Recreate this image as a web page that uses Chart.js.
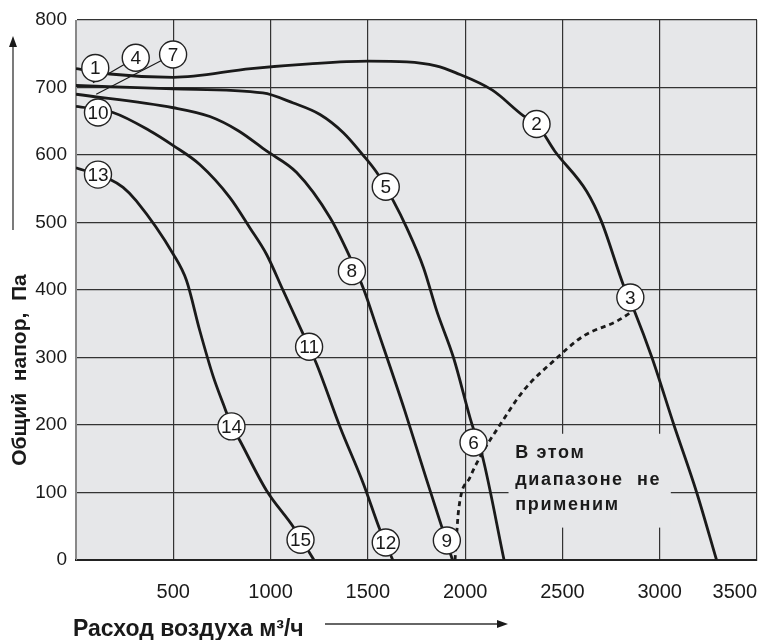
<!DOCTYPE html>
<html lang="ru">
<head>
<meta charset="UTF-8">
<title>Характеристики вентилятора</title>
<script src="https://cdn.jsdelivr.net/npm/chart.js"></script>
<style>
    body { margin: 0; background: #fff; }
    canvas { display: block; }
</style>
</head>
<body>
<canvas id="fanChart" width="761" height="640"></canvas>
<script>
// curve 1-2-3
const flowA = [0, 175, 500, 900, 1200, 1500, 1700, 1850, 1950, 2140, 2300, 2370, 2460, 2625, 2700, 2815, 2870, 2960, 3073, 3190, 3292];
const presA = [728, 720, 715, 728, 735, 739, 738, 732, 722, 696, 658, 645, 606, 546, 502, 406, 369, 300, 200, 100, 0];
// curve 4-5-6
const flowB = [0, 500, 960, 1117, 1254, 1374, 1472, 1546, 1631, 1700, 1786, 1854, 1940, 2034, 2086, 2200];
const presB = [703, 698, 692, 677, 660, 633, 601, 574, 532, 492, 433, 369, 300, 202, 157, 0];
// curve 7-8-9
const flowC = [0, 500, 688, 834, 979, 1134, 1306, 1409, 1480, 1545, 1690, 1803, 1880, 1935];
const presC = [690, 670, 657, 636, 606, 574, 507, 448, 400, 345, 221, 118, 49, 0];
// curve 10-11-12
const flowD = [0, 190, 379, 500, 636, 791, 894, 979, 1065, 1197, 1237, 1357, 1477, 1563, 1628];
const presD = [672, 663, 636, 614, 586, 537, 492, 453, 399, 316, 290, 197, 113, 44, 0];
// curve 13-14-15
const flowE = [0, 173, 242, 310, 500, 568, 636, 705, 757, 799, 842, 979, 1117, 1223];
const presE = [581, 564, 552, 532, 453, 414, 340, 272, 231, 200, 177, 103, 49, 0];
// boundary of the "not applicable" zone
const flowDash = [1948, 1966, 2026, 2095, 2172, 2300, 2455, 2609, 2781, 2858];
const presDash = [0, 73, 123, 162, 197, 251, 295, 332, 354, 368];

// leader lines for labels 4 and 7
const lead4Flow = [307, 87];
const lead4Pres = [744, 707];
const lead7Flow = [499, 104];
const lead7Pres = [749, 690];

// circled numbers
const labelText = ['1', '2', '3', '4', '5', '6', '7', '8', '9', '10', '11', '12', '13', '14', '15'];
const labelFlow = [99, 2367, 2849, 307, 1592, 2043, 499, 1418, 1906, 113, 1198, 1592, 113, 799, 1154];
const labelPres = [729, 646, 389, 744, 553, 174, 749, 428, 29, 663, 316, 26, 571, 198, 30];

// note box
const noteLines = ['В этом', 'диапазоне  не', 'применим'];
const noteFlow = 2258;
const notePres = [159, 118, 81];
const noteBoxFlow = [2223, 3057];
const noteBoxPres = [48, 187];

const xTicks = [0, 500, 1000, 1500, 2000, 2500, 3000, 3500];
const yTicks = [0, 100, 200, 300, 400, 500, 600, 700, 800];

const fontFam = "'Liberation Sans', Arial, Helvetica, sans-serif";
const ink = '#1a1a1a';
const plotBg = '#e6e7e9';

function pts(xs, ys) {
    return xs.map((x, i) => ({ x: x, y: ys[i] }));
}

function curve(xs, ys, extra) {
    return Object.assign({
        data: pts(xs, ys),
        borderColor: ink,
        borderWidth: 2.8,
        pointRadius: 0,
        fill: false,
        cubicInterpolationMode: 'monotone'
    }, extra || {});
}

const decor = {
    id: 'decor',
    beforeDraw(chart) {
        const { ctx, chartArea: a } = chart;
        ctx.save();
        ctx.fillStyle = plotBg;
        ctx.fillRect(a.left, a.top, a.right - a.left, a.bottom - a.top);
        ctx.restore();
    },
    beforeDatasetsDraw(chart) {
        const { ctx } = chart;
        const xs = chart.scales.x, ys = chart.scales.y;
        const x0 = xs.getPixelForValue(noteBoxFlow[0]), x1 = xs.getPixelForValue(noteBoxFlow[1]);
        const y0 = ys.getPixelForValue(noteBoxPres[1]), y1 = ys.getPixelForValue(noteBoxPres[0]);
        ctx.save();
        ctx.fillStyle = plotBg;
        ctx.fillRect(x0, y0, x1 - x0, y1 - y0);
        ctx.fillStyle = ink;
        ctx.font = 'bold 18px ' + fontFam;
        ctx.letterSpacing = '1.6px';
        ctx.textAlign = 'left';
        ctx.textBaseline = 'middle';
        noteLines.forEach((t, i) => {
            ctx.fillText(t, xs.getPixelForValue(noteFlow), ys.getPixelForValue(notePres[i]));
        });
        ctx.restore();
    },
    afterDatasetsDraw(chart) {
        const { ctx } = chart;
        const xs = chart.scales.x, ys = chart.scales.y;
        ctx.save();
        labelText.forEach((t, i) => {
            const cx = xs.getPixelForValue(labelFlow[i]);
            const cy = ys.getPixelForValue(labelPres[i]);
            ctx.beginPath();
            ctx.arc(cx, cy, 13.5, 0, Math.PI * 2);
            ctx.fillStyle = '#fff';
            ctx.fill();
            ctx.lineWidth = 1.4;
            ctx.strokeStyle = '#222';
            ctx.stroke();
            ctx.fillStyle = ink;
            ctx.font = '19px ' + fontFam;
            ctx.textAlign = 'center';
            ctx.textBaseline = 'middle';
            ctx.fillText(t, cx, cy + 1);
        });
        ctx.restore();
    },
    afterDraw(chart) {
        const { ctx } = chart;
        ctx.save();
        ctx.fillStyle = ink;
        ctx.strokeStyle = '#333';
        ctx.lineWidth = 1.3;

        // y title + arrow
        ctx.save();
        ctx.translate(20, 370);
        ctx.rotate(-Math.PI / 2);
        ctx.font = 'bold 21px ' + fontFam;
        ctx.textAlign = 'center';
        ctx.textBaseline = 'middle';
        ctx.fillText('Общий  напор,  Па', 0, 0);
        ctx.restore();
        ctx.beginPath();
        ctx.moveTo(13, 230);
        ctx.lineTo(13, 44);
        ctx.stroke();
        ctx.beginPath();
        ctx.moveTo(13, 36);
        ctx.lineTo(9, 47);
        ctx.lineTo(17, 47);
        ctx.closePath();
        ctx.fill();

        // x title + arrow
        ctx.font = 'bold 23px ' + fontFam;
        ctx.textAlign = 'left';
        ctx.textBaseline = 'alphabetic';
        ctx.fillText('Расход воздуха м³/ч', 73, 636);
        ctx.beginPath();
        ctx.moveTo(325, 624);
        ctx.lineTo(500, 624);
        ctx.stroke();
        ctx.beginPath();
        ctx.moveTo(508, 624);
        ctx.lineTo(497, 620);
        ctx.lineTo(497, 628);
        ctx.closePath();
        ctx.fill();
        ctx.restore();
    }
};

new Chart(document.getElementById('fanChart'), {
    type: 'line',
    data: {
        datasets: [
            curve(flowA, presA),
            curve(flowB, presB),
            curve(flowC, presC),
            curve(flowD, presD),
            curve(flowE, presE),
            curve(flowDash, presDash, { borderDash: [5, 4] }),
            curve(lead4Flow, lead4Pres, { borderWidth: 1.2, cubicInterpolationMode: 'default', tension: 0 }),
            curve(lead7Flow, lead7Pres, { borderWidth: 1.2, cubicInterpolationMode: 'default', tension: 0 })
        ]
    },
    options: {
        responsive: false,
        animation: false,
        layout: { padding: { top: 20, right: 4, left: 0, bottom: 0 } },
        plugins: { legend: { display: false }, tooltip: { enabled: false } },
        scales: {
            x: {
                type: 'linear',
                min: 0,
                max: 3500,
                afterBuildTicks: s => { s.ticks = xTicks.map(v => ({ value: v })); },
                afterFit: s => { s.height = 80; s.paddingLeft = 0; s.paddingRight = 0; },
                ticks: {
                    align: 'inner',
                    padding: 20,
                    color: ink,
                    font: { family: fontFam, size: 20 },
                    callback: v => (v === 0 ? '' : String(v))
                },
                grid: {
                    drawTicks: false,
                    color: c => (c.tick && c.tick.value === 0 ? '#888' : '#333'),
                    lineWidth: 1.2
                },
                border: { display: true, color: '#222', width: 2 }
            },
            y: {
                type: 'linear',
                min: 0,
                max: 800,
                afterBuildTicks: s => { s.ticks = yTicks.map(v => ({ value: v })); },
                afterFit: s => { s.width = 76; s.paddingTop = 0; s.paddingBottom = 0; },
                ticks: {
                    padding: 9,
                    color: ink,
                    font: { family: fontFam, size: 19 }
                },
                grid: {
                    drawTicks: false,
                    color: c => (c.tick && c.tick.value === 0 ? '#222' : '#333'),
                    lineWidth: 1.2
                },
                border: { display: true, color: '#888', width: 1 }
            }
        }
    },
    plugins: [decor]
});
</script>
</body>
</html>
